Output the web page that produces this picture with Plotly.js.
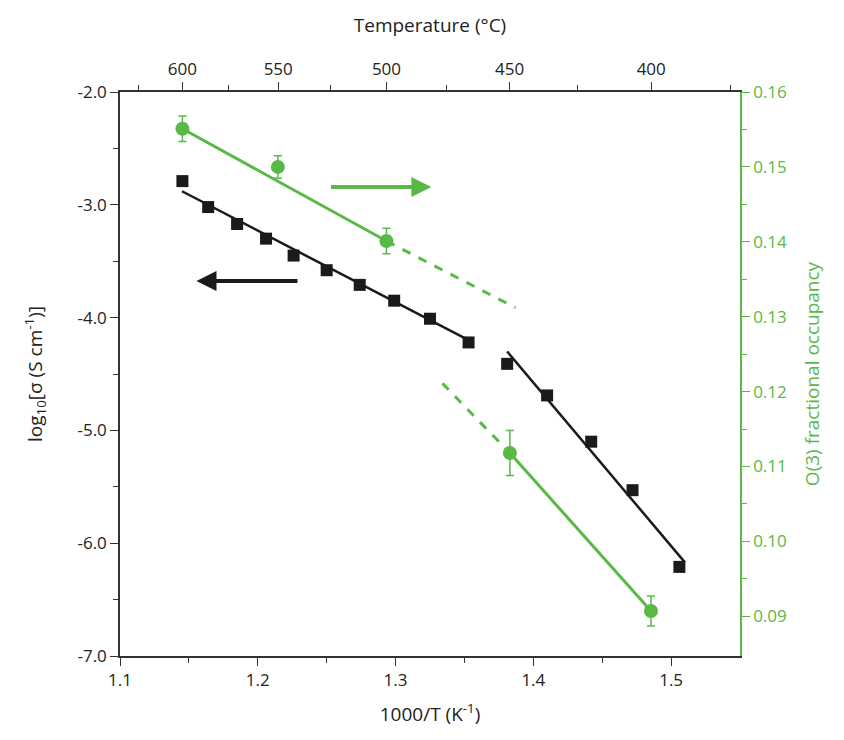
<!DOCTYPE html>
<html>
<head>
<meta charset="utf-8">
<script src="https://cdn.plot.ly/plotly-3.0.1.min.js"></script>
<style>body{margin:0;background:#fff}#plot{width:844px;height:740px}</style>
</head>
<body>
<div id="plot"></div>
<script>
// conductivity (black squares)
const condX = [1.1453, 1.164, 1.185, 1.206, 1.226, 1.250, 1.274, 1.299, 1.325, 1.353, 1.381, 1.410, 1.442, 1.472, 1.506];
const condY = [-2.79, -3.02, -3.17, -3.30, -3.45, -3.58, -3.71, -3.85, -4.01, -4.22, -4.41, -4.69, -5.10, -5.53, -6.21];
const fitHighX = [1.145, 1.353];
const fitHighY = [-2.88, -4.20];
const fitLowX = [1.381, 1.510];
const fitLowY = [-4.30, -6.17];

// O(3) fractional occupancy (green circles)
const occX = [1.1453, 1.2146, 1.2934, 1.383, 1.4854];
const occY = [0.1551, 0.1500, 0.1401, 0.1118, 0.0907];
const occErr = [0.0017, 0.0015, 0.0017, 0.0030, 0.0020];
const occFitHighX = [1.1453, 1.2934];
const occFitHighY = [0.1551, 0.1401];
const occDashHighX = [1.2934, 1.387];
const occDashHighY = [0.1401, 0.1312];
const occDashLowX = [1.334, 1.383];
const occDashLowY = [0.1211, 0.1118];
const occFitLowX = [1.383, 1.4854];
const occFitLowY = [0.1118, 0.0907];

// axis ticks
const leftTicks = [-7, -6, -5, -4, -3, -2];
const rightTicks = [0.09, 0.10, 0.11, 0.12, 0.13, 0.14, 0.15, 0.16];
const tempMajor = [600, 550, 500, 450, 400];
const tempMinor = [625, 575, 525, 475, 425, 375];
const toInv = t => 1000 / (t + 273.15);

const green = '#5ab946';
const dark = '#1a1a1a';
const axisCol = '#333';
const xr = [1.1, 1.55];

const traces = [
  {x: fitHighX, y: fitHighY, mode: 'lines', line: {color: dark, width: 2.5}},
  {x: fitLowX, y: fitLowY, mode: 'lines', line: {color: dark, width: 2.5}},
  {x: condX, y: condY, mode: 'markers', marker: {symbol: 'square', size: 12, color: dark}},
  {x: occFitHighX, y: occFitHighY, yaxis: 'y2', mode: 'lines', line: {color: green, width: 3}},
  {x: occDashHighX, y: occDashHighY, yaxis: 'y2', mode: 'lines', line: {color: green, width: 3, dash: 'dash'}},
  {x: occDashLowX, y: occDashLowY, yaxis: 'y2', mode: 'lines', line: {color: green, width: 3, dash: 'dash'}},
  {x: occFitLowX, y: occFitLowY, yaxis: 'y2', mode: 'lines', line: {color: green, width: 3}},
  {x: occX, y: occY, yaxis: 'y2', mode: 'markers', marker: {size: 14, color: green},
   error_y: {type: 'data', array: occErr, color: green, thickness: 1.5, width: 4}},
  {x: [toInv(500)], y: [-2], xaxis: 'x2', mode: 'markers', marker: {opacity: 0}, hoverinfo: 'skip'}
];

const font = {family: 'Open Sans, sans-serif', size: 17, color: '#222'};

const layout = {
  width: 844, height: 740,
  margin: {l: 120, r: 104, t: 92, b: 84},
  showlegend: false,
  paper_bgcolor: '#fff', plot_bgcolor: '#fff',
  font: font,
  xaxis: {
    range: xr, tickvals: [1.1, 1.2, 1.3, 1.4, 1.5], ticks: 'outside', ticklen: 8,
    tickcolor: axisCol, linecolor: axisCol, linewidth: 1.5, showline: true, showgrid: false, zeroline: false,
    minor: {tickvals: [1.15, 1.25, 1.35, 1.45], ticks: 'outside', ticklen: 5, tickcolor: axisCol},
    title: {text: '1000/T (K<sup>-1</sup>)', font: {size: 19}, standoff: 18}
  },
  xaxis2: {
    overlaying: 'x', side: 'top', range: xr, tickmode: 'array',
    tickvals: tempMajor.map(toInv), ticktext: tempMajor.map(String),
    ticks: 'outside', ticklen: 8, tickcolor: axisCol, linecolor: axisCol, linewidth: 1.5,
    showline: true, showgrid: false, zeroline: false,
    minor: {tickvals: tempMinor.map(toInv), ticks: 'outside', ticklen: 5, tickcolor: axisCol},
    title: {text: 'Temperature (°C)', font: {size: 19}, standoff: 20}
  },
  yaxis: {
    range: [-7, -2], tickvals: leftTicks, ticktext: leftTicks.map(v => v.toFixed(1)),
    ticks: 'outside', ticklen: 8, tickcolor: axisCol, linecolor: axisCol, linewidth: 1.5,
    showline: true, showgrid: false, zeroline: false,
    minor: {tickvals: [-6.5, -5.5, -4.5, -3.5, -2.5], ticks: 'outside', ticklen: 5, tickcolor: axisCol},
    title: {text: 'log<sub>10</sub>[σ (S cm<sup>-1</sup>)]', font: {size: 19}, standoff: 30}
  },
  yaxis2: {
    overlaying: 'y', side: 'right', range: [0.0847, 0.16],
    tickvals: rightTicks, tickformat: '.2f',
    tickfont: {color: green}, ticks: 'outside', ticklen: 8, tickcolor: green,
    linecolor: green, linewidth: 1.5, showline: true, showgrid: false, zeroline: false,
    minor: {tickvals: [0.095, 0.105, 0.115, 0.125, 0.135, 0.145, 0.155], ticks: 'outside', ticklen: 5, tickcolor: green},
    title: {text: 'O(3) fractional occupancy', font: {size: 19, color: green}, standoff: 20}
  },
  annotations: [
    {x: 1.326, y: 0.1473, xref: 'x', yref: 'y2', ax: 1.252, ay: 0.1473, axref: 'x', ayref: 'y2',
     text: '', showarrow: true, arrowhead: 2, arrowsize: 1, arrowwidth: 4, arrowcolor: green},
    {x: 1.1555, y: -3.676, xref: 'x', yref: 'y', ax: 1.2299, ay: -3.676, axref: 'x', ayref: 'y',
     text: '', showarrow: true, arrowhead: 2, arrowsize: 1, arrowwidth: 4, arrowcolor: dark}
  ]
};

Plotly.newPlot('plot', traces, layout, {displayModeBar: false});
</script>
</body>
</html>
